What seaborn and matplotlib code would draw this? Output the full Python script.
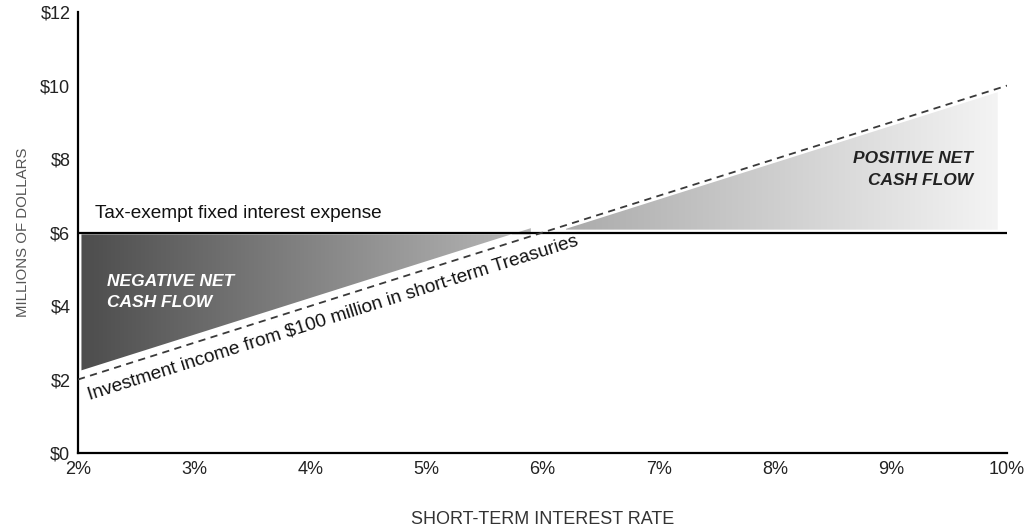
import numpy as np
import pandas as pd
import matplotlib
matplotlib.use("Agg")
import matplotlib.pyplot as plt
import seaborn as sns
from matplotlib.colors import LinearSegmentedColormap

# Short-term interest rate (%) and the resulting income on $100 million ($ millions)
rates = [2, 3, 4, 5, 6, 7, 8, 9, 10]
investment_income = [2, 3, 4, 5, 6, 7, 8, 9, 10]
fixed_expense = [6, 6, 6, 6, 6, 6, 6, 6, 6]

x_tick_values = [2, 3, 4, 5, 6, 7, 8, 9, 10]
x_tick_labels = ["2%", "3%", "4%", "5%", "6%", "7%", "8%", "9%", "10%"]
y_tick_values = [0, 2, 4, 6, 8, 10, 12]
y_tick_labels = ["$0", "$2", "$4", "$6", "$8", "$10", "$12"]

sns.set_style("white")
plt.rcParams["font.family"] = ["Liberation Sans", "DejaVu Sans"]

df = pd.DataFrame({"rate": rates, "income": investment_income, "expense": fixed_expense})

fig = plt.figure(figsize=(10.3, 5.27), dpi=100)
ax = fig.add_axes([0.0757, 0.1404, 0.902, 0.8366])


def gradient_region(ax, x, lower, upper, c0, c1):
    """Fill the area between two curves with a left-to-right grey gradient."""
    poly = ax.fill_between(x, lower, upper, color="none", lw=0)
    path = poly.get_paths()[0]
    grad = np.linspace(0, 1, 256).reshape(1, -1)
    cmap = LinearSegmentedColormap.from_list("shade", [c0, c1])
    im = ax.imshow(grad, extent=[min(x), max(x), 0, 12], aspect="auto",
                   cmap=cmap, origin="lower", zorder=1, interpolation="bilinear")
    im.set_clip_path(path, transform=ax.transData)


r = np.array(df["rate"], dtype=float)
inc = np.array(df["income"], dtype=float)
exp_ = np.array(df["expense"], dtype=float)

# Shortfall: income below the fixed expense
neg_x = np.linspace(r[0] + 0.03, 5.9, 100)
neg_inc = np.interp(neg_x, r, inc)
neg_exp = np.interp(neg_x, r, exp_)
gradient_region(ax, neg_x, neg_inc + 0.22, neg_exp - 0.05, "#4d4d4d", "#b8b8b8")

# Surplus: income above the fixed expense
pos_x = np.linspace(6.2, 9.92, 100)
pos_inc = np.interp(pos_x, r, inc)
pos_exp = np.interp(pos_x, r, exp_)
gradient_region(ax, pos_x, pos_exp + 0.08, pos_inc - 0.1, "#ababab", "#f4f4f4")

sns.lineplot(data=df, x="rate", y="expense", ax=ax, color="black", lw=1.6, zorder=3)
sns.lineplot(data=df, x="rate", y="income", ax=ax, color="#3a3a3a", lw=1.3,
             zorder=3, dashes=False, linestyle=(0, (4, 3)))

ax.set_xlim(2, 10)
ax.set_ylim(0, 12)
ax.set_xticks(x_tick_values)
ax.set_xticklabels(x_tick_labels)
ax.set_yticks(y_tick_values)
ax.set_yticklabels(y_tick_labels)
ax.tick_params(axis="both", direction="inout", length=9, width=1.3,
               color="black", labelsize=13, labelcolor="#222222")
ax.tick_params(axis="x", pad=1)
ax.tick_params(axis="y", pad=1)

for side in ["top", "right"]:
    ax.spines[side].set_visible(False)
for side in ["left", "bottom"]:
    ax.spines[side].set_color("black")
    ax.spines[side].set_linewidth(1.6)

ax.set_xlabel("SHORT-TERM INTEREST RATE", fontsize=13, color="#333333", labelpad=24)
ax.set_ylabel("MILLIONS OF DOLLARS", fontsize=10.8, color="#555555", labelpad=7)

ax.text(2.15, 6.28, "Tax-exempt fixed interest expense", fontsize=13.7,
        color="#111111", ha="left", va="bottom", zorder=4)
ax.text(2.25, 4.37, "NEGATIVE NET\nCASH FLOW", fontsize=12.5, color="white",
        fontweight="bold", fontstyle="italic", ha="left", va="center",
        linespacing=1.5, zorder=4)
ax.text(9.71, 7.72, "POSITIVE NET\nCASH FLOW", fontsize=12.5, color="#222222",
        fontweight="bold", fontstyle="italic", ha="right", va="center",
        multialignment="right", linespacing=1.6, zorder=4)
ax.text(2.10, 1.45, "Investment income from $100 million in short-term Treasuries",
        fontsize=13.7, color="#111111", ha="left", va="baseline",
        rotation=45, rotation_mode="anchor", transform_rotates_text=True, zorder=4)

fig.savefig("out.png", dpi=100)
